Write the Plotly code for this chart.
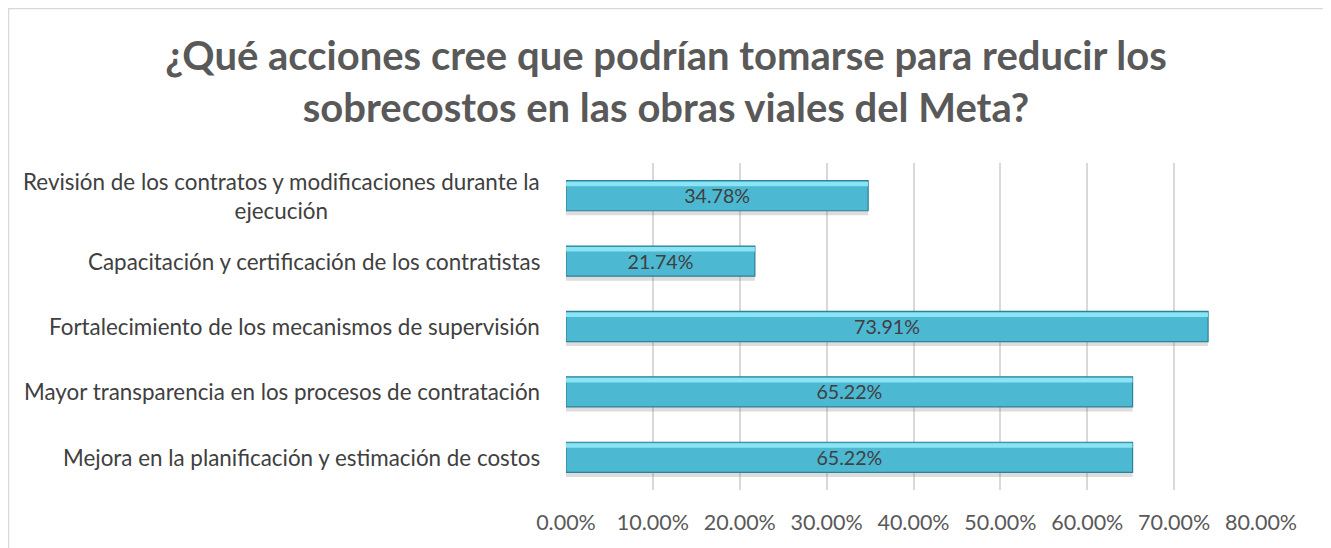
import plotly.graph_objects as go

categories = [
    "Mejora en la planificación y estimación de costos",
    "Mayor transparencia en los procesos de contratación",
    "Fortalecimiento de los mecanismos de supervisión",
    "Capacitación y certificación de los contratistas",
    "Revisión de los contratos y modificaciones durante la<br>ejecución",
]
values = [0.6522, 0.6522, 0.7391, 0.2174, 0.3478]
tick_vals = [0, 0.1, 0.2, 0.3, 0.4, 0.5, 0.6, 0.7, 0.8]
tick_text = ["0.00%", "10.00%", "20.00%", "30.00%", "40.00%", "50.00%", "60.00%", "70.00%", "80.00%"]
title_text = "¿Qué acciones cree que podrían tomarse para reducir los<br>sobrecostos en las obras viales del Meta?"

# page body has an 8px margin, so the figure is sized to fit the window
W, H = 1323, 540
L, R, T, B = 558, 70, 155, 58
pw, ph = W - L - R, H - T - B
FONT = "Lato"

bw = 0.46  # bar thickness in category units

fig = go.Figure()
# soft shadow
fig.add_trace(go.Bar(
    y=categories, x=values, orientation="h",
    width=bw, offset=-bw / 2 - 0.07,
    marker=dict(color="rgba(120,120,120,0.25)", line=dict(width=0)),
    hoverinfo="skip",
))
# main bar
fig.add_trace(go.Bar(
    y=categories, x=values, orientation="h",
    width=bw, offset=-bw / 2,
    marker=dict(color="#4cb8d2", line=dict(color="#2f8196", width=1.2)),
    text=[f"{v*100:.2f}%" for v in values],
    textposition="inside", insidetextanchor="middle",
    textfont=dict(family=FONT, size=22, color="#404040"),
    cliponaxis=False,
    hoverinfo="skip",
))
# top highlight band
fig.add_trace(go.Bar(
    y=categories, x=values, orientation="h",
    width=0.07, offset=bw / 2 - 0.085,
    marker=dict(color="rgba(150,235,250,0.85)", line=dict(width=0)),
    hoverinfo="skip",
))

annotations = [
    dict(
        x=0, xref="paper", y=c, yref="y", xanchor="right", yanchor="middle",
        xshift=-24, text=c, showarrow=False, align="center",
        font=dict(family=FONT, size=22.4, color="#404040"),
    )
    for c in categories
]

fig.update_layout(
    width=W, height=H,
    margin=dict(l=L, r=R, t=T, b=B),
    paper_bgcolor="white", plot_bgcolor="white",
    barmode="overlay",
    showlegend=False,
    title=dict(
        text=title_text, x=658 / W, xanchor="center", xref="container",
        y=1 - 62 / H, yanchor="middle", yref="container",
        font=dict(family=FONT, size=40, color="#595959", weight="bold"),
    ),
    xaxis=dict(
        range=[0, 0.8], tickvals=tick_vals, ticktext=tick_text,
        showgrid=True, gridcolor="#d9d9d9", gridwidth=1.5,
        zeroline=False, showline=False,
        tickfont=dict(family=FONT, size=21.5, color="#595959"),
        ticklabelstandoff=17,
    ),
    yaxis=dict(
        showgrid=False, zeroline=False, showline=False,
        showticklabels=False,
    ),
    annotations=annotations,
)

# chart border
fig.add_shape(
    type="rect", xref="paper", yref="paper",
    x0=(0.5 - L) / pw, x1=(1318 - L) / pw,
    y0=(H - B - 560) / ph, y1=(H - B - 0.5) / ph,
    line=dict(color="#d9d9d9", width=1.5), fillcolor="rgba(0,0,0,0)", layer="below",
)

fig.write_html("out.html")
